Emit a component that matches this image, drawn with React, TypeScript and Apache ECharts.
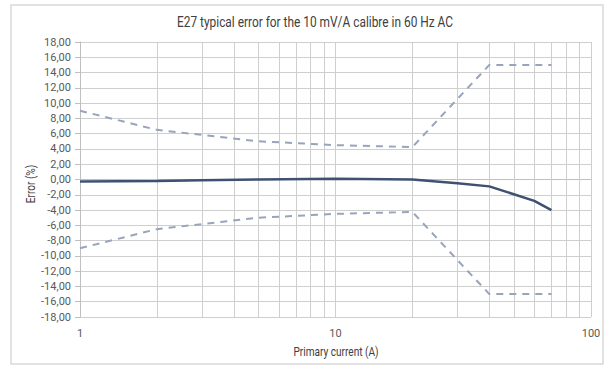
import React, { useEffect, useRef } from "react";
import * as echarts from "echarts";

const titleText = "E27 typical error for the 10 mV/A calibre in 60 Hz AC";
const xName = "Primary current (A)";
const yName = "Error (%)";

const limitCurrents = [1, 2, 5, 10, 20, 40, 70];
const upperLimit = [9.0, 6.5, 5.0, 4.5, 4.25, 15.0, 15.0];
const lowerLimit = [-9.0, -6.5, -5.0, -4.5, -4.25, -15.0, -15.0];

const errCurrents = [1, 2, 3, 5, 10, 20, 30, 40, 60, 70];
const errValues = [-0.25, -0.2, -0.1, 0.0, 0.1, 0.0, -0.5, -0.9, -2.8, -4.0];

const minorX = [2, 3, 4, 5, 6, 7, 8, 9, 20, 30, 40, 50, 60, 70, 80, 90];

const pairs = (xs: number[], ys: number[]) => xs.map((x, i) => [x, ys[i]]);

export default function App() {
  const ref = useRef<HTMLDivElement>(null);
  useEffect(() => {
    if (!ref.current) return;
    const chart = echarts.init(ref.current, undefined, { renderer: "svg" });
    const gridColor = "#cfcfcf";
    const font = "Roboto, sans-serif";
    chart.setOption({
      animation: false,
      backgroundColor: "#ffffff",
      graphic: [
        {
          type: "rect",
          shape: { x: 11, y: 5, width: 592, height: 359 },
          style: { fill: "none", stroke: "#d9d9d9", lineWidth: 1.5 },
          silent: true,
        },
        {
          type: "text",
          x: 315,
          y: 22,
          scaleX: 0.85,
          silent: true,
          style: {
            text: titleText,
            fontFamily: font,
            fontSize: 14,
            fill: "#404040",
            align: "center",
            verticalAlign: "middle",
          },
        },
        {
          type: "text",
          x: 336,
          y: 352,
          scaleX: 0.84,
          silent: true,
          style: {
            text: xName,
            fontFamily: font,
            fontSize: 12,
            fill: "#404040",
            align: "center",
            verticalAlign: "middle",
          },
        },
        {
          type: "text",
          x: 31,
          y: 184,
          rotation: Math.PI / 2,
          scaleX: 0.84,
          silent: true,
          style: {
            text: yName,
            fontFamily: font,
            fontSize: 12,
            fill: "#404040",
            align: "center",
            verticalAlign: "middle",
          },
        },
      ],
      grid: { left: 80, right: 19, top: 42, bottom: 51 },
      xAxis: {
        type: "log",
        logBase: 10,
        min: 1,
        max: 100,
        axisLine: { show: true, lineStyle: { color: "#bfbfbf" } },
        axisTick: { show: false },
        axisLabel: {
          fontFamily: font,
          fontSize: 11,
          color: "#595959",
          margin: 11,
        },
        splitLine: { show: true, lineStyle: { color: gridColor, width: 1 } },
      },
      yAxis: {
        type: "value",
        min: -18,
        max: 18,
        interval: 2,
        axisLine: { show: true, lineStyle: { color: "#bfbfbf" } },
        axisTick: { show: true, length: 5, lineStyle: { color: "#bfbfbf" } },
        axisLabel: {
          fontFamily: font,
          fontSize: 11,
          color: "#595959",
          margin: 9,
          formatter: (v: number) => (Math.abs(v) < 1e-9 ? 0 : v).toFixed(2).replace(".", ","),
        },
        splitLine: { show: true, lineStyle: { color: gridColor, width: 1 } },
      },
      series: [
        {
          type: "line",
          data: pairs(limitCurrents, upperLimit),
          symbol: "none",
          lineStyle: { color: "#98a4bc", width: 2, type: [7, 6] },
          z: 3,
          markLine: {
            silent: true,
            symbol: "none",
            label: { show: false },
            lineStyle: { color: gridColor, width: 1, type: "solid" },
            data: minorX.map((x) => ({ xAxis: x })),
            z: 1,
          },
        },
        {
          type: "line",
          data: pairs(limitCurrents, lowerLimit),
          symbol: "none",
          lineStyle: { color: "#98a4bc", width: 2, type: [7, 6] },
          z: 3,
        },
        {
          type: "line",
          data: pairs(errCurrents, errValues),
          symbol: "none",
          lineStyle: { color: "#3e5170", width: 2.5 },
          z: 4,
        },
      ],
    });
    return () => chart.dispose();
  }, []);
  return (
    <div
      ref={ref}
      style={{ position: "fixed", left: 0, top: 0, width: 610, height: 368 }}
    />
  );
}
